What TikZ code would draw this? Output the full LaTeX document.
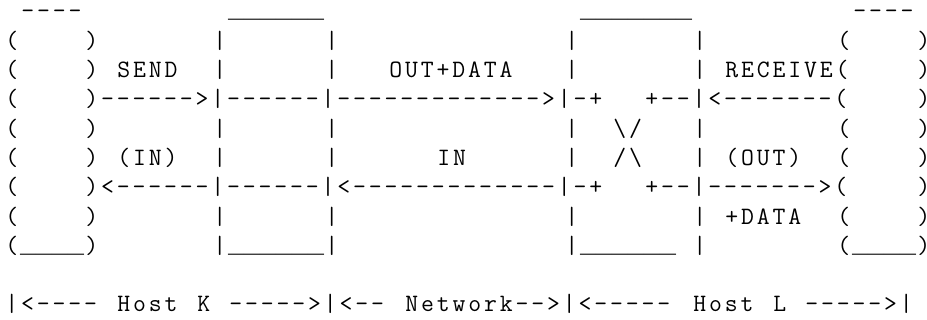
\documentclass[tikz,border=0pt]{standalone}
\usepackage{fontspec}
\setmonofont{Latin Modern Mono}[LetterSpace=11.5]
\newfontfamily\usfont{Liberation Mono}
\tikzset{asc/.style={anchor=base west, inner sep=0pt, outer sep=0pt, text=black,
  font=\ttfamily\fontsize{25}{30}\selectfont},
  ascu/.style={anchor=base west, inner sep=0pt, outer sep=0pt, text=black!85,
  font=\usfont\fontsize{26.67}{30}\selectfont}}
\newcommand\asc[3]{\node[asc] (l#1c#2) at ({5.4+16*#2},{-19-29.3*#1}) {#3};}
\newcommand\ascu[3]{\node[ascu] (u#1c#2) at ({4+16*#2},{-18-29.3*#1}) {#3};}
\newcommand\rp{\makebox[8pt][l]{)}}
\begin{document}
\begin{tikzpicture}[x=1pt,y=1pt]
\useasboundingbox (0,0) rectangle (927,-320);
% line 0
\asc{0}{1}{----}
\ascu{0}{14}{\_\_\_\_\_\_}
\ascu{0}{36}{\_\_\_\_\_\_\_}
\asc{0}{53}{----}
% line 1
\asc{1}{0}{(}\asc{1}{5}{)}\asc{1}{13}{|}\asc{1}{20}{|}\asc{1}{35}{|}\asc{1}{43}{|}\asc{1}{52}{(}\asc{1}{57}{\rp}
% line 2
\asc{2}{0}{(}\asc{2}{5}{)}\asc{2}{7}{SEND}\asc{2}{13}{|}\asc{2}{20}{|}\asc{2}{24}{OUT+DATA}\asc{2}{35}{|}\asc{2}{43}{|}\asc{2}{45}{RECEIVE(}\asc{2}{57}{\rp}
% line 3
\asc{3}{0}{(}\asc{3}{5}{)------>|------|------------->|-+}\asc{3}{40}{+--|<-------(}\asc{3}{57}{\rp}
% line 4
\asc{4}{0}{(}\asc{4}{5}{)}\asc{4}{13}{|}\asc{4}{20}{|}\asc{4}{35}{|}\asc{4}{38}{\textbackslash/}\asc{4}{43}{|}\asc{4}{52}{(}\asc{4}{57}{\rp}
% line 5
\asc{5}{0}{(}\asc{5}{5}{)}\asc{5}{7}{(IN)}\asc{5}{13}{|}\asc{5}{20}{|}\asc{5}{27}{IN}\asc{5}{35}{|}\asc{5}{38}{/\textbackslash}\asc{5}{43}{|}\asc{5}{45}{(OUT)}\asc{5}{52}{(}\asc{5}{57}{\rp}
% line 6
\asc{6}{0}{(}\asc{6}{5}{)<------|------|<-------------|-+}\asc{6}{40}{+--|------->(}\asc{6}{57}{\rp}
% line 7
\asc{7}{0}{(}\asc{7}{5}{)}\asc{7}{13}{|}\asc{7}{20}{|}\asc{7}{35}{|}\asc{7}{43}{|}\asc{7}{45}{+DATA}\asc{7}{52}{(}\asc{7}{57}{\rp}
% line 8
\asc{8}{0}{(}\ascu{8}{1}{\_\_\_\_}\asc{8}{5}{)}
\asc{8}{13}{|}\ascu{8}{14}{\_\_\_\_\_\_}\asc{8}{20}{|}
\asc{8}{35}{|}\ascu{8}{36}{\_\_\_\_\_\_}\asc{8}{43}{|}
\asc{8}{52}{(}\ascu{8}{53}{\_\_\_\_}\asc{8}{57}{\rp}
% line 10
\asc{10}{0}{|<----}\asc{10}{7}{Host}\asc{10}{12}{K}\asc{10}{14}{----->|<--}\asc{10}{25}{Network-->|<-----}\asc{10}{43}{Host}\asc{10}{48}{L}\asc{10}{50}{----->|}
\end{tikzpicture}
\end{document}
